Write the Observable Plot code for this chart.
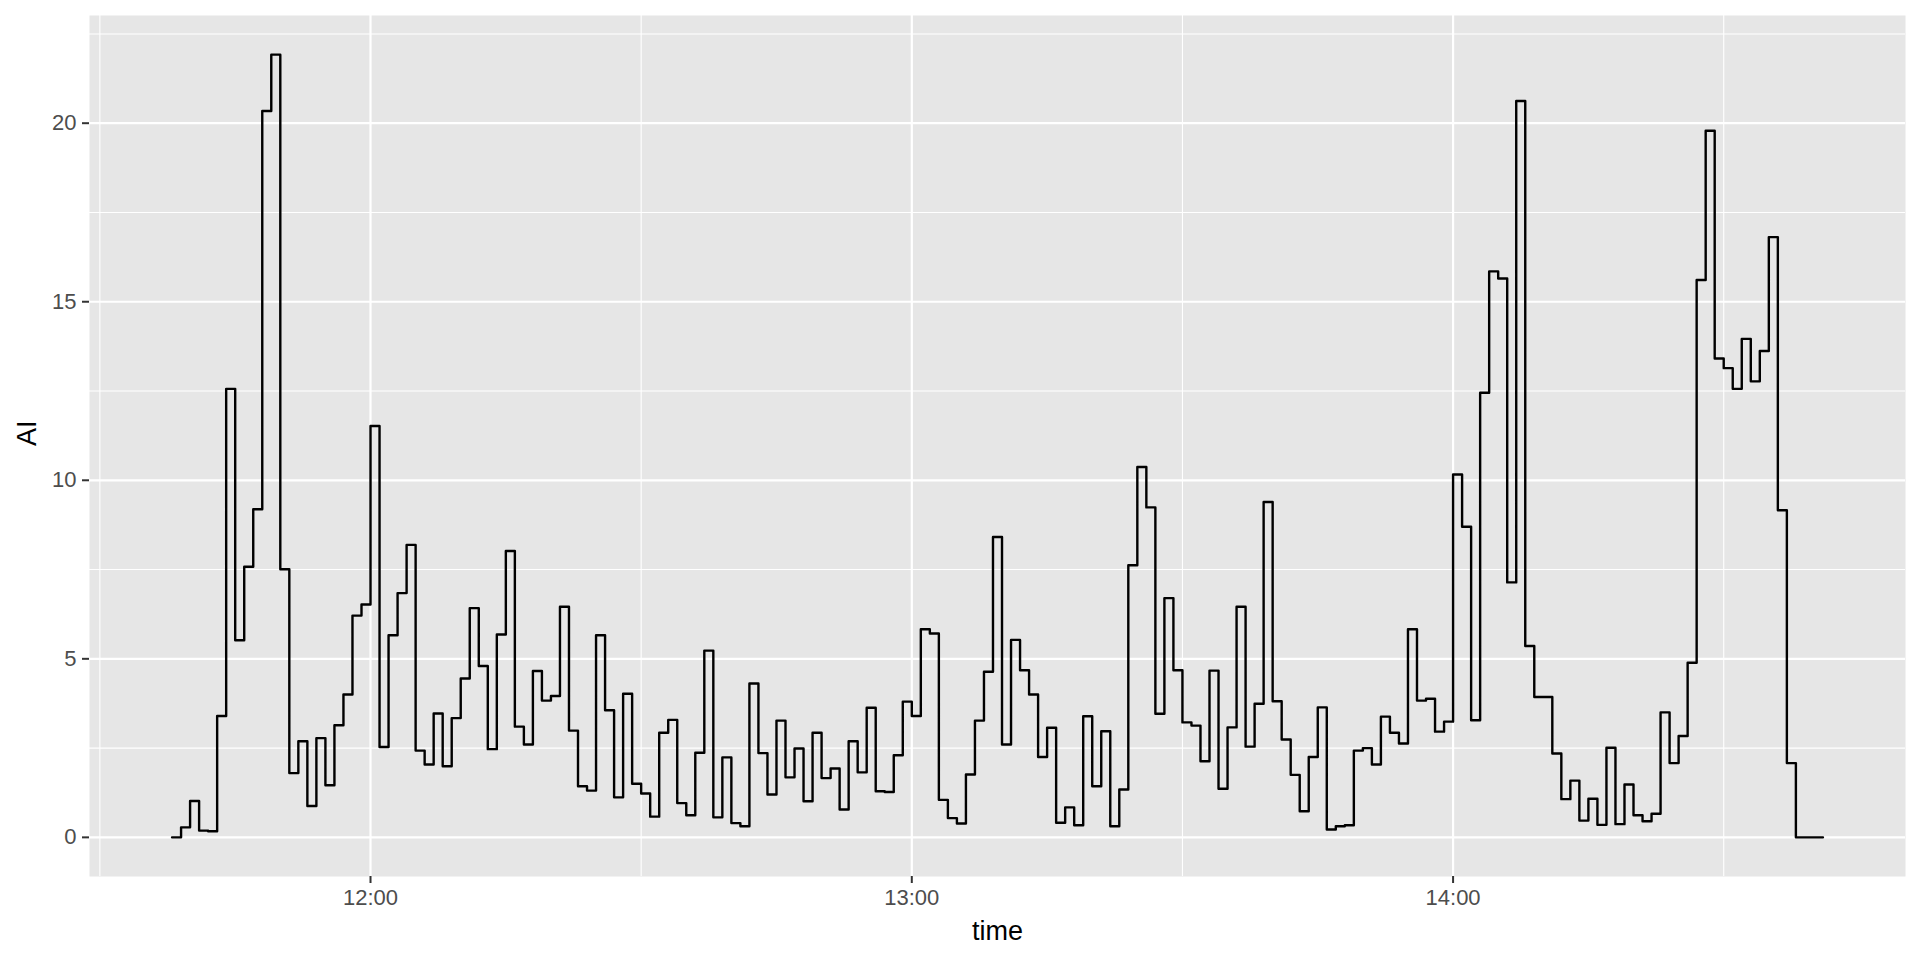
<!DOCTYPE html>
<html>
<head>
<meta charset="utf-8">
<script src="https://cdn.jsdelivr.net/npm/d3@7"></script>
<script src="https://cdn.jsdelivr.net/npm/@observablehq/plot@0.6"></script>
<style>
  html, body { margin: 0; padding: 0; background: #ffffff; }
  #chart svg { display: block; }
</style>
</head>
<body>
<div id="chart"></div>
<script>
// ---- data ----
const startTime = "11:38";      // first observation, one value per minute
const stepMinutes = 1;
const aiValues = [
  0, 0.28, 1.02, 0.19, 0.17, 3.40, 12.56, 5.52, 7.58, 9.19,
  20.34, 21.92, 7.51, 1.80, 2.69, 0.88, 2.78, 1.46, 3.14, 4.00,
  6.21, 6.52, 11.52, 2.53, 5.66, 6.84, 8.19, 2.43, 2.04, 3.47,
  1.99, 3.34, 4.45, 6.42, 4.80, 2.47, 5.68, 8.02, 3.10, 2.60,
  4.66, 3.83, 3.96, 6.46, 2.99, 1.43, 1.31, 5.66, 3.56, 1.12,
  4.02, 1.50, 1.23, 0.58, 2.93, 3.29, 0.96, 0.62, 2.37, 5.23,
  0.56, 2.24, 0.40, 0.31, 4.31, 2.36, 1.20, 3.27, 1.68, 2.49,
  1.01, 2.93, 1.66, 1.93, 0.78, 2.69, 1.82, 3.63, 1.29, 1.27,
  2.30, 3.80, 3.40, 5.83, 5.71, 1.05, 0.54, 0.39, 1.76, 3.27,
  4.64, 8.41, 2.60, 5.53, 4.68, 4.00, 2.25, 3.07, 0.41, 0.84,
  0.34, 3.39, 1.43, 2.97, 0.31, 1.34, 7.62, 10.37, 9.24, 3.46,
  6.70, 4.68, 3.22, 3.13, 2.13, 4.67, 1.36, 3.08, 6.46, 2.54,
  3.74, 9.39, 3.81, 2.74, 1.75, 0.73, 2.25, 3.64, 0.22, 0.31,
  0.34, 2.43, 2.50, 2.04, 3.38, 2.93, 2.63, 5.83, 3.83, 3.88,
  2.96, 3.24, 10.16, 8.70, 3.28, 12.45, 15.85, 15.65, 7.14, 20.62,
  5.36, 3.93, 3.93, 2.35, 1.07, 1.59, 0.47, 1.08, 0.35, 2.51,
  0.37, 1.48, 0.62, 0.45, 0.66, 3.50, 2.08, 2.84, 4.89, 15.61,
  19.79, 13.41, 13.14, 12.56, 13.96, 12.77, 13.62, 16.81, 9.16, 2.08,
  0, 0, 0, 0
];
const xTickLabels = ["12:00", "13:00", "14:00"];
const xMinorLabels = ["11:30", "12:30", "13:30", "14:30"];
const yTicks = [0, 5, 10, 15, 20];
const yMinorTicks = [2.5, 7.5, 12.5, 17.5, 22.5];
const xTitle = "time";
const yTitle = "AI";

// ---- build table ----
const parseHM = d3.utcParse("%H:%M");
const fmtHM = d3.utcFormat("%H:%M");
const t0 = parseHM(startTime);
const rows = aiValues.map((v, i) => ({ time: d3.utcMinute.offset(t0, i * stepMinutes), AI: v }));
const xMajor = xTickLabels.map(parseHM);
const xMinor = xMinorLabels.map(parseHM);

// ggplot-style 5% expansion
const xExt = d3.extent(rows, d => d.time);
const xPad = (xExt[1] - xExt[0]) * 0.05;
const yExt = d3.extent(rows, d => d.AI);
const yPad = (yExt[1] - yExt[0]) * 0.05;

const chart = Plot.plot({
  width: 1920,
  height: 960,
  marginLeft: 89,
  marginRight: 15,
  marginTop: 15,
  marginBottom: 84,
  style: { fontFamily: "'Liberation Sans', Arial, Helvetica, sans-serif", background: "#ffffff" },
  x: { type: "utc", domain: [new Date(+xExt[0] - xPad), new Date(+xExt[1] + xPad)] },
  y: { domain: [yExt[0] - yPad, yExt[1] + yPad] },
  marks: [
    Plot.frame({ fill: "#E6E6E6", stroke: null }),
    Plot.ruleY(yMinorTicks, { stroke: "#ffffff", strokeWidth: 1.1 }),
    Plot.ruleX(xMinor, { stroke: "#ffffff", strokeWidth: 1.1 }),
    Plot.ruleY(yTicks, { stroke: "#ffffff", strokeWidth: 2.2 }),
    Plot.ruleX(xMajor, { stroke: "#ffffff", strokeWidth: 2.2 }),
    Plot.lineY(rows, { x: "time", y: "AI", curve: "step-after", stroke: "#000000", strokeWidth: 2.4 }),
    Plot.axisX({ ticks: xMajor, tickFormat: fmtHM, tickSize: 7, tickPadding: 6, fontSize: 22,
                 stroke: "#333333", strokeWidth: 2, fill: "#4D4D4D", label: null }),
    Plot.axisY({ ticks: yTicks, tickSize: 7, tickPadding: 6, fontSize: 22,
                 stroke: "#333333", strokeWidth: 2, fill: "#4D4D4D", label: null }),
    Plot.text([xTitle], { text: d => d, frameAnchor: "bottom", dy: 63, fontSize: 27, fill: "#000000" }),
    Plot.text([yTitle], { text: d => d, frameAnchor: "left", dx: -62, rotate: -90, fontSize: 27, fill: "#000000" })
  ]
});
document.getElementById("chart").appendChild(chart);
</script>
</body>
</html>
